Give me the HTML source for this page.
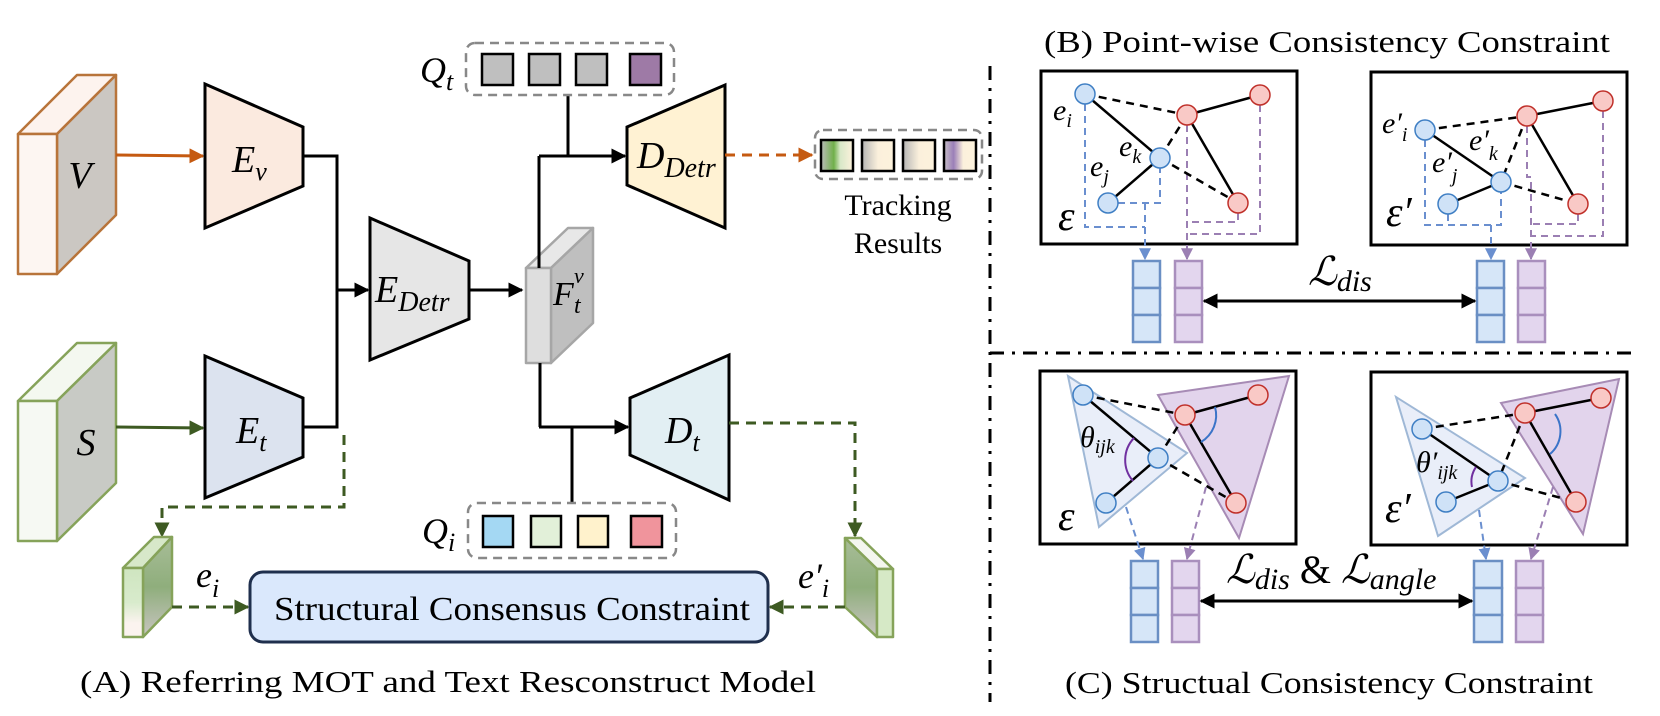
<!DOCTYPE html>
<html><head><meta charset="utf-8"><style>html,body{margin:0;padding:0;background:#fff}svg{display:block}svg text{font-family:"Liberation Serif",serif}</style></head>
<body>
<svg width="1660" height="716" viewBox="0 0 1660 716" xmlns="http://www.w3.org/2000/svg" style="font-family:'Liberation Serif',serif">
<defs>
<marker id="ab" viewBox="0 0 10 10" refX="9" refY="5" markerWidth="5" markerHeight="5" orient="auto" markerUnits="strokeWidth"><path d="M0,0L10,5L0,10z" fill="#000"/></marker>
<marker id="ao" viewBox="0 0 10 10" refX="9" refY="5" markerWidth="5" markerHeight="5" orient="auto" markerUnits="strokeWidth"><path d="M0,0L10,5L0,10z" fill="#c55a11"/></marker>
<marker id="ag" viewBox="0 0 10 10" refX="9" refY="5" markerWidth="5" markerHeight="5" orient="auto" markerUnits="strokeWidth"><path d="M0,0L10,5L0,10z" fill="#3d5a22"/></marker>
<marker id="abl" viewBox="0 0 10 10" refX="9" refY="5" markerWidth="6" markerHeight="6" orient="auto" markerUnits="strokeWidth"><path d="M0,0L10,5L0,10z" fill="#6a8fcf"/></marker>
<marker id="apu" viewBox="0 0 10 10" refX="9" refY="5" markerWidth="6" markerHeight="6" orient="auto" markerUnits="strokeWidth"><path d="M0,0L10,5L0,10z" fill="#9b7fb3"/></marker>
<marker id="dbl" viewBox="0 0 10 10" refX="9" refY="5" markerWidth="5" markerHeight="5" orient="auto-start-reverse" markerUnits="strokeWidth"><path d="M0,0L10,5L0,10z" fill="#000"/></marker>
<linearGradient id="gl" x1="0" y1="0" x2="0" y2="1"><stop offset="0" stop-color="#cfe5c0"/><stop offset="0.5" stop-color="#d8ebcc"/><stop offset="0.8" stop-color="#fbf3ef"/></linearGradient>
<linearGradient id="gs" x1="0" y1="0" x2="0" y2="1"><stop offset="0" stop-color="#a8bd98"/><stop offset="0.5" stop-color="#8fae7c"/><stop offset="1" stop-color="#c9c5c2"/></linearGradient>
<linearGradient id="t1" x1="0" x2="1"><stop offset="0" stop-color="#bbb"/><stop offset="0.4" stop-color="#70b04a"/><stop offset="0.6" stop-color="#d8e8c8"/><stop offset="1" stop-color="#fdf2dc"/></linearGradient>
<linearGradient id="t2" x1="0" x2="1"><stop offset="0" stop-color="#b5b5b5"/><stop offset="0.5" stop-color="#fbf0dc"/><stop offset="1" stop-color="#fdf2dc"/></linearGradient>
<linearGradient id="t4" x1="0" x2="1"><stop offset="0" stop-color="#c8c0c8"/><stop offset="0.3" stop-color="#9b7fb8"/><stop offset="0.6" stop-color="#fbf0dc"/><stop offset="1" stop-color="#fdf2dc"/></linearGradient>
</defs>

<g stroke="#b8743a" stroke-width="2.5" stroke-linejoin="round">
<polygon points="18,134 77,75 116,75 57,134" fill="#fdf3ee"/>
<polygon points="57,134 116,75 116,215 57,274" fill="#cbc7c2"/>
<rect x="18" y="134" width="39" height="140" fill="#fdf6f2"/>
</g>
<text x="80" y="188" font-size="38" font-style="italic" text-anchor="middle">V</text>
<g stroke="#86a35a" stroke-width="2.5" stroke-linejoin="round">
<polygon points="18,401 77,343 116,343 57,401" fill="#f4f8f0"/>
<polygon points="57,401 116,343 116,483 57,541" fill="#c8cac5"/>
<rect x="18" y="401" width="39" height="140" fill="#f6f9f3"/>
</g>
<text x="86" y="455" font-size="38" font-style="italic" text-anchor="middle">S</text>

<line x1="116" y1="155" x2="203" y2="156" stroke="#c55a11" stroke-width="3" marker-end="url(#ao)"/>
<line x1="116" y1="427" x2="203" y2="428" stroke="#3d5a22" stroke-width="3" marker-end="url(#ag)"/>

<polygon points="205,84 303,127 303,186 205,228" fill="#fbeadf" stroke="#000" stroke-width="3"/>
<text x="232" y="172" font-size="38" font-style="italic">E<tspan font-size="26" dy="8">v</tspan></text>
<polygon points="205,356 303,398 303,457 205,498" fill="#dce3ef" stroke="#000" stroke-width="3"/>
<text x="236" y="443" font-size="38" font-style="italic">E<tspan font-size="26" dy="8">t</tspan></text>
<polyline points="303,156 337,156 337,427 303,427" fill="none" stroke="#000" stroke-width="3"/>
<line x1="337" y1="290" x2="368" y2="290" stroke="#000" stroke-width="3" marker-end="url(#ab)"/>
<polygon points="370,218 469,261 469,319 370,360" fill="#e6e6e6" stroke="#000" stroke-width="3"/>
<text x="375" y="302" font-size="38" font-style="italic">E<tspan font-size="28" dy="9">Detr</tspan></text>
<line x1="469" y1="290" x2="522" y2="290" stroke="#000" stroke-width="3" marker-end="url(#ab)"/>

<g stroke="#a6a6a6" stroke-width="2.5" stroke-linejoin="round">
<polygon points="526,268 568,228 593,228 551,268" fill="#e8e8e8"/>
<polygon points="551,268 593,228 593,323 551,363" fill="#bfbfbf"/>
<rect x="526" y="268" width="25" height="95" fill="#dedede"/>
</g>
<line x1="539" y1="268" x2="539" y2="156" stroke="#000" stroke-width="3"/>
<text x="553" y="305" font-size="34" font-style="italic">F</text><text x="574" y="283" font-size="22" font-style="italic">v</text><text x="574" y="313" font-size="24" font-style="italic">t</text>

<polyline points="539,156 625,156" fill="none" stroke="#000" stroke-width="3" marker-end="url(#ab)"/>
<line x1="568" y1="95" x2="568" y2="156" stroke="#000" stroke-width="3"/>
<line x1="540" y1="363" x2="540" y2="427" stroke="#000" stroke-width="3"/>
<line x1="539" y1="427" x2="628" y2="427" stroke="#000" stroke-width="3" marker-end="url(#ab)"/>
<line x1="572" y1="427" x2="572" y2="503" stroke="#000" stroke-width="3"/>

<rect x="466" y="43" width="208" height="52" rx="9" fill="none" stroke="#888" stroke-width="2.5" stroke-dasharray="9,6"/>
<g stroke="#000" stroke-width="2.5"><rect x="482" y="54" width="31" height="31" fill="#bfbfbf"/><rect x="529" y="54" width="31" height="31" fill="#bfbfbf"/><rect x="576" y="54" width="31" height="31" fill="#bfbfbf"/><rect x="630" y="54" width="31" height="31" fill="#9e7aa6"/></g>
<text x="420" y="82" font-size="36" font-style="italic">Q<tspan font-size="26" dy="8">t</tspan></text>
<rect x="468" y="503" width="208" height="55" rx="9" fill="none" stroke="#888" stroke-width="2.5" stroke-dasharray="9,6"/>
<g stroke="#000" stroke-width="2.5"><rect x="483" y="516" width="30" height="31" fill="#a4d8f3"/><rect x="531" y="516" width="30" height="31" fill="#e2f0d9"/><rect x="578" y="516" width="30" height="31" fill="#fff2cc"/><rect x="631" y="516" width="31" height="31" fill="#f0949c"/></g>
<text x="422" y="543" font-size="36" font-style="italic">Q<tspan font-size="26" dy="8">i</tspan></text>

<polygon points="627,127 725,85 725,228 627,185" fill="#fff2d3" stroke="#000" stroke-width="3"/>
<text x="637" y="168" font-size="38" font-style="italic">D<tspan font-size="28" dy="9">Detr</tspan></text>
<polygon points="630,398 729,355 729,500 630,455" fill="#e2eff3" stroke="#000" stroke-width="3"/>
<text x="665" y="443" font-size="38" font-style="italic">D<tspan font-size="26" dy="8">t</tspan></text>

<line x1="725" y1="155" x2="812" y2="155" stroke="#c55a11" stroke-width="3" stroke-dasharray="10,7" marker-end="url(#ao)"/>
<rect x="815" y="130" width="167" height="49" rx="8" fill="none" stroke="#888" stroke-width="2.5" stroke-dasharray="9,6"/>
<g stroke="#000" stroke-width="2.5"><rect x="821" y="140" width="32" height="31" fill="url(#t1)"/><rect x="862" y="140" width="32" height="31" fill="url(#t2)"/><rect x="903" y="140" width="32" height="31" fill="url(#t2)"/><rect x="944" y="140" width="32" height="31" fill="url(#t4)"/></g>
<text x="898" y="215" font-size="30" text-anchor="middle">Tracking</text>
<text x="898" y="253" font-size="30" text-anchor="middle">Results</text>

<polyline points="344,435 344,507 162,507 162,536" fill="none" stroke="#3d5a22" stroke-width="3" stroke-dasharray="10,7" marker-end="url(#ag)"/>
<polyline points="729,423 855,423 855,536" fill="none" stroke="#3d5a22" stroke-width="3" stroke-dasharray="10,7" marker-end="url(#ag)"/>

<g stroke="#86a35a" stroke-width="2.5" stroke-linejoin="round">
<polygon points="123,568 154,537 172,537 143,568" fill="#d7e8c9"/>
<polygon points="143,568 172,537 172,607 143,637" fill="url(#gs)"/>
<rect x="123" y="568" width="20" height="69" fill="url(#gl)"/>
<polygon points="845,538 861,538 893,569 877,569" fill="#f4f6ef"/>
<polygon points="845,538 877,569 877,637 845,607" fill="url(#gs)"/>
<rect x="877" y="569" width="16" height="68" fill="#d6e9c6"/>
</g>
<text x="196" y="587" font-size="36" font-style="italic">e<tspan font-size="26" dy="10">i</tspan></text>
<text x="798" y="588" font-size="36" font-style="italic">e′<tspan font-size="26" dy="9">i</tspan></text>
<line x1="172" y1="607" x2="248" y2="607" stroke="#3d5a22" stroke-width="3" stroke-dasharray="10,7" marker-end="url(#ag)"/>
<line x1="845" y1="607" x2="770" y2="607" stroke="#3d5a22" stroke-width="3" stroke-dasharray="10,7" marker-end="url(#ag)"/>
<rect x="250" y="572" width="518" height="70" rx="13" fill="#dae8fc" stroke="#1f2f4d" stroke-width="3"/>
<text x="274" y="620" font-size="34" textLength="476" lengthAdjust="spacingAndGlyphs">Structural Consensus Constraint</text>
<text x="80" y="692" font-size="31" textLength="736" lengthAdjust="spacingAndGlyphs">(A) Referring MOT and Text Resconstruct Model</text>

<line x1="990" y1="66" x2="990" y2="702" stroke="#000" stroke-width="3" stroke-dasharray="14,8,3,8"/>
<line x1="990" y1="353" x2="1636" y2="353" stroke="#000" stroke-width="3" stroke-dasharray="14,8,3,8"/>

<text x="1044" y="52" font-size="31" textLength="566" lengthAdjust="spacingAndGlyphs">(B) Point-wise Consistency Constraint</text>
<text x="1065" y="693" font-size="31" textLength="528" lengthAdjust="spacingAndGlyphs">(C) Structual Consistency Constraint</text>

<rect x="1041" y="71" width="256" height="173" fill="#fff" stroke="#000" stroke-width="3"/>
<g fill="none" stroke-width="2" stroke-dasharray="7,5">
<polyline points="1085,104 1085,227 1145,227" stroke="#6a8fcf"/>
<polyline points="1118,203 1160,203 1160,168" stroke="#6a8fcf"/>
<polyline points="1145,203 1145,259" stroke="#6a8fcf" marker-end="url(#abl)"/>
<polyline points="1187,125 1187,259" stroke="#9b7fb3" marker-end="url(#apu)"/>
<polyline points="1238,213 1238,222 1187,222" stroke="#9b7fb3"/>
<polyline points="1260,105 1260,234 1187,234" stroke="#9b7fb3"/>
</g>
<g stroke="#000" stroke-width="2.5"><line x1="1085" y1="94" x2="1160" y2="158"/><line x1="1160" y1="158" x2="1108" y2="203"/><line x1="1187" y1="115" x2="1260" y2="95"/><line x1="1187" y1="115" x2="1238" y2="203"/></g>
<g stroke="#000" stroke-width="2.5" stroke-dasharray="8,6"><line x1="1085" y1="94" x2="1187" y2="115"/><line x1="1187" y1="115" x2="1160" y2="158"/><line x1="1160" y1="158" x2="1238" y2="203"/></g>
<g fill="#cfe2f7" stroke="#3f7fc4" stroke-width="1.5"><circle cx="1085" cy="94" r="10"/><circle cx="1160" cy="158" r="10"/><circle cx="1108" cy="203" r="10"/></g>
<g fill="#f9c9c6" stroke="#c0302a" stroke-width="1.5"><circle cx="1187" cy="115" r="10"/><circle cx="1260" cy="95" r="10"/><circle cx="1238" cy="203" r="10"/></g>
<g font-style="italic" font-size="30"><text x="1053" y="120">e<tspan font-size="20" dy="7">i</tspan></text><text x="1119" y="156">e<tspan font-size="20" dy="7">k</tspan></text><text x="1090" y="176">e<tspan font-size="20" dy="7">j</tspan></text></g>
<text x="1058" y="230" font-size="42" font-style="italic">ε</text>

<rect x="1371" y="72" width="256" height="173" fill="#fff" stroke="#000" stroke-width="3"/>
<g fill="none" stroke-width="2" stroke-dasharray="7,5">
<polyline points="1425,140 1425,225 1501,225 1501,192" stroke="#6a8fcf"/>
<polyline points="1448,214 1448,225" stroke="#6a8fcf"/>
<polyline points="1491,225 1491,259" stroke="#6a8fcf" marker-end="url(#abl)"/>
<polyline points="1527,126 1527,177 1531,177 1531,259" stroke="#9b7fb3" marker-end="url(#apu)"/>
<polyline points="1578,214 1578,224 1531,224" stroke="#9b7fb3"/>
<polyline points="1603,111 1603,236 1531,236" stroke="#9b7fb3"/>
</g>
<g stroke="#000" stroke-width="2.5"><line x1="1425" y1="130" x2="1501" y2="182"/><line x1="1501" y1="182" x2="1448" y2="204"/><line x1="1527" y1="116" x2="1603" y2="101"/><line x1="1527" y1="116" x2="1578" y2="204"/></g>
<g stroke="#000" stroke-width="2.5" stroke-dasharray="8,6"><line x1="1425" y1="130" x2="1527" y2="116"/><line x1="1527" y1="116" x2="1501" y2="182"/><line x1="1501" y1="182" x2="1578" y2="204"/></g>
<g fill="#cfe2f7" stroke="#3f7fc4" stroke-width="1.5"><circle cx="1425" cy="130" r="10"/><circle cx="1501" cy="182" r="10"/><circle cx="1448" cy="204" r="10"/></g>
<g fill="#f9c9c6" stroke="#c0302a" stroke-width="1.5"><circle cx="1527" cy="116" r="10"/><circle cx="1603" cy="101" r="10"/><circle cx="1578" cy="204" r="10"/></g>
<g font-style="italic" font-size="30"><text x="1382" y="133">e′<tspan font-size="20" dy="8">i</tspan></text><text x="1469" y="150">e′<tspan font-size="20" dy="10">k</tspan></text><text x="1432" y="172">e′<tspan font-size="20" dy="10">j</tspan></text></g>
<text x="1386" y="226" font-size="42" font-style="italic">ε′</text>

<g stroke-width="2.5">
<g fill="#d6e6f8" stroke="#6a8fc4"><rect x="1133" y="261" width="27" height="27"/><rect x="1133" y="288" width="27" height="27"/><rect x="1133" y="315" width="27" height="27"/>
<rect x="1477" y="261" width="27" height="27"/><rect x="1477" y="288" width="27" height="27"/><rect x="1477" y="315" width="27" height="27"/></g>
<g fill="#e3d6ee" stroke="#a98fbd"><rect x="1175" y="261" width="27" height="27"/><rect x="1175" y="288" width="27" height="27"/><rect x="1175" y="315" width="27" height="27"/>
<rect x="1518" y="261" width="27" height="27"/><rect x="1518" y="288" width="27" height="27"/><rect x="1518" y="315" width="27" height="27"/></g>
</g>
<line x1="1204" y1="301" x2="1475" y2="301" stroke="#000" stroke-width="3" marker-start="url(#dbl)" marker-end="url(#dbl)"/>
<text x="1308" y="285" font-size="40" font-style="italic">ℒ<tspan font-size="30" dy="6">dis</tspan></text>

<rect x="1040" y="371" width="256" height="173" fill="#fff" stroke="#000" stroke-width="3"/>
<polygon points="1068,376 1187,453 1099,527" fill="#e9eef9" stroke="#9fb8d6" stroke-width="2"/>
<polygon points="1158,395 1289,376 1239,538" fill="#e2d4ec" stroke="#a78bb5" stroke-width="2"/>
<g stroke="#000" stroke-width="2.5"><line x1="1083" y1="395" x2="1158" y2="458"/><line x1="1158" y1="458" x2="1106" y2="503"/><line x1="1185" y1="415" x2="1258" y2="395"/><line x1="1185" y1="415" x2="1236" y2="503"/></g>
<g stroke="#000" stroke-width="2.5" stroke-dasharray="8,6"><line x1="1083" y1="395" x2="1185" y2="415"/><line x1="1185" y1="415" x2="1158" y2="458"/><line x1="1158" y1="458" x2="1236" y2="503"/></g>
<path d="M1134,438 A32,32 0 0 0 1133,481" fill="none" stroke="#7030a0" stroke-width="2"/>
<path d="M1215,407 A31,31 0 0 1 1201,442" fill="none" stroke="#3b74c8" stroke-width="2"/>
<g fill="#cfe2f7" stroke="#3f7fc4" stroke-width="1.5"><circle cx="1083" cy="395" r="10"/><circle cx="1158" cy="458" r="10"/><circle cx="1106" cy="503" r="10"/></g>
<g fill="#f9c9c6" stroke="#c0302a" stroke-width="1.5"><circle cx="1185" cy="415" r="10"/><circle cx="1258" cy="395" r="10"/><circle cx="1236" cy="503" r="10"/></g>
<text x="1080" y="447" font-size="30" font-style="italic">θ<tspan font-size="20" dy="6">ijk</tspan></text>
<text x="1058" y="530" font-size="42" font-style="italic">ε</text>
<line x1="1126" y1="507" x2="1143" y2="559" stroke="#6a8fcf" stroke-width="2" stroke-dasharray="7,5" marker-end="url(#abl)"/>
<line x1="1206" y1="487" x2="1187" y2="559" stroke="#9b7fb3" stroke-width="2" stroke-dasharray="7,5" marker-end="url(#apu)"/>

<rect x="1371" y="372" width="256" height="173" fill="#fff" stroke="#000" stroke-width="3"/>
<polygon points="1396,397 1525,478 1438,536" fill="#e9eef9" stroke="#9fb8d6" stroke-width="2"/>
<polygon points="1501,403 1619,379 1583,534" fill="#e2d4ec" stroke="#a78bb5" stroke-width="2"/>
<g stroke="#000" stroke-width="2.5"><line x1="1422" y1="429" x2="1498" y2="481"/><line x1="1498" y1="481" x2="1446" y2="502"/><line x1="1525" y1="413" x2="1601" y2="398"/><line x1="1525" y1="413" x2="1576" y2="502"/></g>
<g stroke="#000" stroke-width="2.5" stroke-dasharray="8,6"><line x1="1422" y1="429" x2="1525" y2="413"/><line x1="1525" y1="413" x2="1498" y2="481"/><line x1="1498" y1="481" x2="1576" y2="502"/></g>
<path d="M1476,467 A26,26 0 0 0 1472,487" fill="none" stroke="#7030a0" stroke-width="2"/>
<path d="M1555,414 A30,30 0 0 1 1550,454" fill="none" stroke="#3b74c8" stroke-width="2"/>
<g fill="#cfe2f7" stroke="#3f7fc4" stroke-width="1.5"><circle cx="1422" cy="429" r="10"/><circle cx="1498" cy="481" r="10"/><circle cx="1446" cy="502" r="10"/></g>
<g fill="#f9c9c6" stroke="#c0302a" stroke-width="1.5"><circle cx="1525" cy="413" r="10"/><circle cx="1601" cy="398" r="10"/><circle cx="1576" cy="502" r="10"/></g>
<text x="1416" y="472" font-size="30" font-style="italic">θ′<tspan font-size="20" dy="7">ijk</tspan></text>
<text x="1385" y="522" font-size="42" font-style="italic">ε′</text>
<line x1="1479" y1="510" x2="1486" y2="559" stroke="#6a8fcf" stroke-width="2" stroke-dasharray="7,5" marker-end="url(#abl)"/>
<line x1="1553" y1="487" x2="1531" y2="559" stroke="#9b7fb3" stroke-width="2" stroke-dasharray="7,5" marker-end="url(#apu)"/>

<g stroke-width="2.5">
<g fill="#d6e6f8" stroke="#6a8fc4"><rect x="1131" y="561" width="27" height="27"/><rect x="1131" y="588" width="27" height="27"/><rect x="1131" y="615" width="27" height="27"/>
<rect x="1474" y="561" width="28" height="27"/><rect x="1474" y="588" width="28" height="27"/><rect x="1474" y="615" width="28" height="27"/></g>
<g fill="#e3d6ee" stroke="#a98fbd"><rect x="1172" y="561" width="27" height="27"/><rect x="1172" y="588" width="27" height="27"/><rect x="1172" y="615" width="27" height="27"/>
<rect x="1516" y="561" width="27" height="27"/><rect x="1516" y="588" width="27" height="27"/><rect x="1516" y="615" width="27" height="27"/></g>
</g>
<line x1="1201" y1="601" x2="1472" y2="601" stroke="#000" stroke-width="3" marker-start="url(#dbl)" marker-end="url(#dbl)"/>
<text x="1226" y="583" font-size="40" font-style="italic">ℒ<tspan font-size="30" dy="6">dis</tspan><tspan font-style="normal" font-size="40" dy="-6"> &amp; </tspan>ℒ<tspan font-size="30" dy="6">angle</tspan></text>
</svg>
</body></html>
